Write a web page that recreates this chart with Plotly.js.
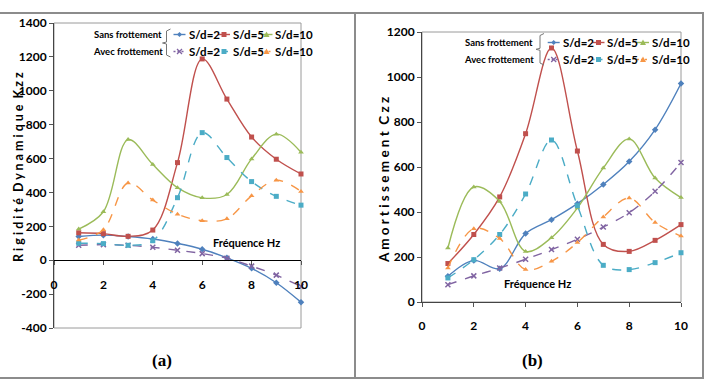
<!DOCTYPE html>
<html><head><meta charset="utf-8">
<script src="https://cdn.plot.ly/plotly-3.0.1.min.js"></script>
<style>
html,body{margin:0;padding:0;background:#fff;width:708px;height:384px;overflow:hidden;}
#a{position:absolute;left:0;top:0;width:354px;height:384px;}
#b{position:absolute;left:354px;top:0;width:354px;height:384px;}
#frame{position:absolute;left:-3px;top:12px;width:707px;height:367px;border:2px solid #8c8c8c;box-sizing:border-box;pointer-events:none;}
#divider{position:absolute;left:354px;top:12px;width:0;height:367px;border-left:2px solid #8c8c8c;pointer-events:none;}
</style></head>
<body>
<div id="a"></div><div id="b"></div><div id="frame"></div><div id="divider"></div>
<script>
// ---------- data ----------
const freq = [1,2,3,4,5,6,7,8,9,10];
const seriesNames = ['S/d=2','S/d=5','S/d=10'];
const xTicks = [0,2,4,6,8,10];
const kzzTickVals = [-400,-200,0,200,400,600,800,1000,1200,1400];
const kzzTickText = ['-400','-200','0','200','400','600','800','1000','1200','1400'];

// (a) Rigidité dynamique Kzz
const kzzSansS2  = [140,148,140,125,99,65,14,-48,-133,-248];
const kzzSansS5  = [162,157,141,178,576,1188,951,727,596,509];
const kzzSansS10 = [184,286,712,565,428,368,388,598,744,637];
const kzzAvecS2  = [88,92,88,76,59,39,12,-35,-88,-155];
const kzzAvecS5  = [100,98,88,115,369,753,606,464,377,325];
const kzzAvecS10 = [119,180,456,355,272,233,245,380,472,406];

// (b) Amortissement Czz
const czzSansS2  = [114,185,148,304,366,437,522,624,766,971];
const czzSansS5  = [171,300,467,748,1129,671,256,225,274,344];
const czzSansS10 = [240,511,447,225,286,418,596,725,551,464];
const czzAvecS2  = [77,116,151,190,233,279,333,397,492,620];
const czzAvecS5  = [107,188,300,480,720,428,163,144,175,219];
const czzAvecS10 = [151,326,282,144,181,264,378,462,353,293];

// ---------- styles ----------
const FONT = 'Lato, Carlito, Roboto, sans-serif';
const colSans = ['#4F81BD','#C0504D','#9BBB59'];
const colAvec = ['#8064A2','#4BACC6','#F79646'];
const symSans = ['diamond','square','triangle'];
const symAvec = ['x','square','triangle'];

function mk(y, name, color, symbol, dash){
  const isX = symbol === 'x';
  return {x: freq, y: y, name: name, type:'scatter', mode:'lines+markers',
    line:{color:color, width:1.4, dash:dash, shape:'spline', smoothing:1},
    marker:{color:color, symbol: isX ? 'x-thin' : (symbol==='triangle'?'triangle-up':symbol),
            size:5, line:{color:color, width: isX?1.5:0}},
    showlegend:false, cliponaxis:false, hoverinfo:'skip'};
}

function conv(m, W, H){
  return {x: px => (px - m.l)/(W - m.l - m.r), y: py => 1 - (py - m.t)/(H - m.t - m.b)};
}

function markerShape(c, sym, cx, cy, color){
  const s = [];
  if (sym === 'square'){
    s.push({type:'rect', xref:'paper', yref:'paper', x0:c.x(cx-2.5), x1:c.x(cx+2.5), y0:c.y(cy+2.5), y1:c.y(cy-2.5), fillcolor:color, line:{width:0}});
  } else if (sym === 'triangle'){
    s.push({type:'path', xref:'paper', yref:'paper', path:`M${c.x(cx-3)},${c.y(cy+2.5)} L${c.x(cx+3)},${c.y(cy+2.5)} L${c.x(cx)},${c.y(cy-3)} Z`, fillcolor:color, line:{width:0}});
  } else if (sym === 'diamond'){
    s.push({type:'path', xref:'paper', yref:'paper', path:`M${c.x(cx-2.5)},${c.y(cy)} L${c.x(cx)},${c.y(cy-2.5)} L${c.x(cx+2.5)},${c.y(cy)} L${c.x(cx)},${c.y(cy+2.5)} Z`, fillcolor:color, line:{width:0}});
  } else if (sym === 'x'){
    s.push({type:'path', xref:'paper', yref:'paper', path:`M${c.x(cx-2.5)},${c.y(cy-2.5)} L${c.x(cx+2.5)},${c.y(cy+2.5)} M${c.x(cx-2.5)},${c.y(cy+2.5)} L${c.x(cx+2.5)},${c.y(cy-2.5)}`, line:{color:color, width:1.3}});
  }
  return s;
}

function buildLegend(c, g){
  const shapes = [], ann = [];
  const rows = [{cols:colSans, syms:symSans, dash:'solid', label:'Sans frottement'},
                {cols:colAvec, syms:symAvec, dash:'dash', label:'Avec frottement'}];
  rows.forEach((r, ri) => {
    const y = g.rowY[ri];
    ann.push({xref:'paper', yref:'paper', x:c.x(g.labelX), y:c.y(y), text:r.label, showarrow:false,
      xanchor:'center', yanchor:'middle', font:{family:FONT, size:g.labelSize, color:'#000', weight:'bold'}});
    for (let i=0;i<3;i++){
      const sx = g.symX[i];
      shapes.push({type:'line', xref:'paper', yref:'paper', x0:c.x(sx-6), x1:c.x(sx+6), y0:c.y(y), y1:c.y(y),
        line:{color:r.cols[i], width:1.4, dash: r.dash==='dash'?'2px,2px':'solid'}});
      markerShape(c, r.syms[i], sx, y, r.cols[i]).forEach(s => shapes.push(s));
      ann.push({xref:'paper', yref:'paper', x:c.x(g.textX[i]), y:c.y(y), text:seriesNames[i], showarrow:false,
        xanchor:'left', yanchor:'middle', font:{family:FONT, size:11.5, color:'#000', weight:'bold'}});
    }
  });
  const bx = g.braceX;
  shapes.push({type:'path', xref:'paper', yref:'paper',
    path:`M${c.x(bx+4)},${c.y(g.braceTop)} L${c.x(bx)},${c.y(g.braceTop+2)} L${c.x(bx)},${c.y(g.braceMid-1)} L${c.x(bx-4)},${c.y(g.braceMid)} L${c.x(bx)},${c.y(g.braceMid+1)} L${c.x(bx)},${c.y(g.braceBot-2)} L${c.x(bx+4)},${c.y(g.braceBot)}`,
    line:{color:'#777', width:1}});
  return {shapes, ann};
}

function makeAxisFont(size){ return {family:FONT, size:size, color:'#000', weight:'bold'}; }

// ---------- chart (a) ----------
(function(){
  const W=354, H=384, m={l:54, r:53, t:23, b:56};
  const c = conv(m, W, H);
  const yr = [-400, 1400];
  const leg = buildLegend(c, {labelX:128, labelSize:9.5, rowY:[34.5, 51.5], symX:[179.5,224,266.5], textX:[187,231,273],
    braceX:166.5, braceTop:29, braceBot:57, braceMid:43});
  const traces = [
    mk(kzzSansS2, 'Sans frottement S/d=2', colSans[0], symSans[0], 'solid'),
    mk(kzzSansS5, 'Sans frottement S/d=5', colSans[1], symSans[1], 'solid'),
    mk(kzzSansS10,'Sans frottement S/d=10', colSans[2], symSans[2], 'solid'),
    mk(kzzAvecS2, 'Avec frottement S/d=2', colAvec[0], symAvec[0], 'dash'),
    mk(kzzAvecS5, 'Avec frottement S/d=5', colAvec[1], symAvec[1], 'dash'),
    mk(kzzAvecS10,'Avec frottement S/d=10', colAvec[2], symAvec[2], 'dash')
  ];
  const shapes = [{type:'rect', xref:'paper', yref:'paper', x0:0, x1:1, y0:0, y1:1, line:{color:'#9a9a9a', width:1}, layer:'below'}].concat(leg.shapes);
  const ann = leg.ann.concat([
    {xref:'paper', yref:'paper', x:c.x(18), y:c.y(167), text:'R i g i d i t é  D y n a m i q u e  K z z', textangle:-90, showarrow:false, xanchor:'center', yanchor:'middle', font:makeAxisFont(12.5)},
    {xref:'paper', yref:'paper', x:c.x(246), y:c.y(242), text:'Fréquence Hz', showarrow:false, xanchor:'center', yanchor:'middle', font:makeAxisFont(11)},
    {xref:'paper', yref:'paper', x:c.x(162), y:c.y(360), text:'(a)', showarrow:false, xanchor:'center', yanchor:'middle', font:{family:'Liberation Serif, Times New Roman, serif', size:17, color:'#000', weight:'bold'}}
  ]);
  const layout = {
    width:W, height:H, margin:m, paper_bgcolor:'rgba(0,0,0,0)', plot_bgcolor:'#fff', showlegend:false,
    xaxis:{range:[0,10], tickvals:xTicks, anchor:'free', position:(0-yr[0])/(yr[1]-yr[0]), showline:true, linecolor:'#000', linewidth:1,
      ticks:'outside', ticklen:4, tickcolor:'#555', ticklabelstandoff:9, showgrid:false, zeroline:false, tickfont:makeAxisFont(12)},
    yaxis:{range:yr, tickvals:kzzTickVals, ticktext:kzzTickText, showline:true, linecolor:'#444', linewidth:1, ticks:'outside', ticklen:4, tickcolor:'#555',
      showgrid:false, zeroline:false, tickfont:makeAxisFont(12)},
    shapes:shapes, annotations:ann
  };
  Plotly.newPlot('a', traces, layout, {displayModeBar:false, staticPlot:true});
})();

// ---------- chart (b) ----------
(function(){
  const W=354, H=384, m={l:68, r:27, t:32, b:82};
  const c = conv(m, W, H);
  const leg = buildLegend(c, {labelX:144.5, labelSize:9.5, rowY:[42.5, 59.5], symX:[199.7,244.5,289], textX:[207,251,296],
    braceX:186, braceTop:33.5, braceBot:65, braceMid:49.3});
  const traces = [
    mk(czzSansS2, 'Sans frottement S/d=2', colSans[0], symSans[0], 'solid'),
    mk(czzSansS5, 'Sans frottement S/d=5', colSans[1], symSans[1], 'solid'),
    mk(czzSansS10,'Sans frottement S/d=10', colSans[2], symSans[2], 'solid'),
    mk(czzAvecS2, 'Avec frottement S/d=2', colAvec[0], symAvec[0], 'dash'),
    mk(czzAvecS5, 'Avec frottement S/d=5', colAvec[1], symAvec[1], 'dash'),
    mk(czzAvecS10,'Avec frottement S/d=10', colAvec[2], symAvec[2], 'dash')
  ];
  const shapes = [{type:'rect', xref:'paper', yref:'paper', x0:0, x1:1, y0:0, y1:1, line:{color:'#9a9a9a', width:1}, layer:'below'}].concat(leg.shapes);
  const ann = leg.ann.concat([
    {xref:'paper', yref:'paper', x:c.x(29.5), y:c.y(180.5), text:'A m o r t i s s e m e n t  C z z', textangle:-90, showarrow:false, xanchor:'center', yanchor:'middle', font:makeAxisFont(13.5)},
    {xref:'paper', yref:'paper', x:c.x(183), y:c.y(283), text:'Fréquence Hz', showarrow:false, xanchor:'center', yanchor:'middle', font:makeAxisFont(11)},
    {xref:'paper', yref:'paper', x:c.x(178), y:c.y(360), text:'(b)', showarrow:false, xanchor:'center', yanchor:'middle', font:{family:'Liberation Serif, Times New Roman, serif', size:17, color:'#000', weight:'bold'}}
  ]);
  const layout = {
    width:W, height:H, margin:m, paper_bgcolor:'rgba(0,0,0,0)', plot_bgcolor:'#fff', showlegend:false,
    xaxis:{range:[0,10], tickvals:xTicks, showline:true, linecolor:'#444', linewidth:1,
      ticks:'outside', ticklen:4, tickcolor:'#555', ticklabelstandoff:9, showgrid:false, zeroline:false, tickfont:makeAxisFont(12)},
    yaxis:{range:[0,1200], dtick:200, tick0:0, showline:true, linecolor:'#444', linewidth:1, ticks:'outside', ticklen:4, tickcolor:'#555',
      showgrid:false, zeroline:false, tickfont:makeAxisFont(12)},
    shapes:shapes, annotations:ann
  };
  Plotly.newPlot('b', traces, layout, {displayModeBar:false, staticPlot:true});
})();
</script>
</body></html>
